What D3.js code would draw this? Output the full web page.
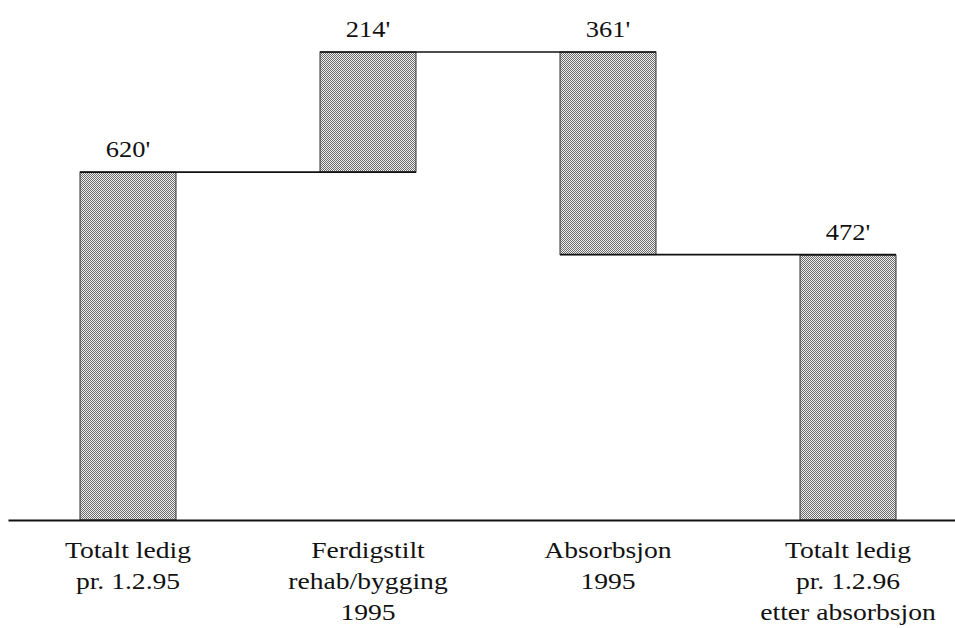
<!DOCTYPE html>
<html>
<head>
<meta charset="utf-8">
<script src="https://cdn.jsdelivr.net/npm/d3@7"></script>
<style>
  body { margin: 0; background: #fff; }
  svg text { font-family: "Liberation Serif", Tinos, "Times New Roman", Times, "DejaVu Serif", "Noto Serif", serif !important; }
</style>
</head>
<body>
<div id="chart"></div>
<script>
// Data (thousands)
var categories = ["Totalt ledig|pr. 1.2.95", "Ferdigstilt|rehab/bygging|1995", "Absorbsjon|1995", "Totalt ledig|pr. 1.2.96|etter absorbsjon"];
var values = [620, 214, -361, 472];
var kinds = ["total", "delta", "delta", "total"];
var valueLabels = ["620'", "214'", "361'", "472'"];

var width = 955, height = 628;
var baseY = 520;
var stretch = 1.15;

var svg = d3.select("#chart")
	.append("svg")
	.attr("width", width)
	.attr("height", height);

// Dither-like grey fill (fine checker)
var pat = svg.append("defs").append("pattern")
	.attr("id", "dots")
	.attr("patternUnits", "userSpaceOnUse")
	.attr("width", 2)
	.attr("height", 2);
pat.append("rect").attr("width", 2).attr("height", 2).attr("fill", "#f0f0f0");
[[0, 0], [1, 1]].forEach(function(p) {
	pat.append("rect").attr("x", p[0]).attr("y", p[1]).attr("width", 1).attr("height", 1).attr("fill", "#6a6a6a");
});

// Build waterfall segments
var running = 0;
var bars = values.map(function(v, i) {
	var start, end;
	if (kinds[i] == "total") { start = 0; end = v; running = v; }
	else { start = running; end = running + v; running = end; }
	return {cat: categories[i], start: start, end: end, label: valueLabels[i]};
});

var x = d3.scaleBand()
	.domain(categories)
	.range([8, 968])
	.paddingInner(0.6)
	.paddingOuter(0.3);

var y = d3.scaleLinear()
	.domain([0, d3.max(bars, function(d) { return Math.max(d.start, d.end); })])
	.range([baseY, 52]);

// Bars
svg.selectAll(".bar")
	.data(bars)
	.enter()
	.append("rect")
	.attr("class", "bar")
	.attr("x", function(d) { return x(d.cat); })
	.attr("y", function(d) { return y(Math.max(d.start, d.end)); })
	.attr("width", x.bandwidth())
	.attr("height", function(d) { return Math.abs(y(d.start) - y(d.end)); })
	.attr("fill", "url(#dots)")
	.attr("stroke", "#333")
	.attr("stroke-width", 1);

// Connector lines between bars
var links = bars.slice(0, -1).map(function(d, i) {
	return {x1: x(d.cat), x2: x(bars[i + 1].cat), v: d.end};
});
svg.selectAll(".link")
	.data(links)
	.enter()
	.append("line")
	.attr("class", "link")
	.attr("x1", function(d) { return d.x1; })
	.attr("x2", function(d) { return d.x2 + x.bandwidth(); })
	.attr("y1", function(d) { return y(d.v); })
	.attr("y2", function(d) { return y(d.v); })
	.attr("stroke", "#111")
	.attr("stroke-width", 1.6);

// Value labels
svg.selectAll(".val")
	.data(bars)
	.enter()
	.append("text")
	.attr("class", "val")
	.attr("transform", function(d) {
		return "translate(" + (x(d.cat) + x.bandwidth() / 2) + "," + (y(Math.max(d.start, d.end)) - 15) + ") scale(" + stretch + ",1)";
	})
	.attr("text-anchor", "middle")
	.style("font-size", "23px")
	.style("fill", "#111")
	.text(function(d) { return d.label; });

// x axis
var axis = svg.append("g")
	.attr("transform", "translate(0," + baseY + ")")
	.call(d3.axisBottom(x).tickSize(0).tickSizeOuter(0));

axis.select(".domain")
	.attr("stroke", "#111")
	.attr("stroke-width", 2);

axis.selectAll(".tick text").each(function(d) {
	var t = d3.select(this);
	var lines = d.split("|");
	t.text(null)
		.attr("y", 0)
		.attr("dy", null)
		.attr("transform", "scale(" + stretch + ",1)")
		.style("font-size", "24px")
		.attr("fill", "#111");
	lines.forEach(function(l, i) {
		t.append("tspan").attr("x", 0).attr("y", 38 + i * 31).text(l);
	});
});
</script>
</body>
</html>
